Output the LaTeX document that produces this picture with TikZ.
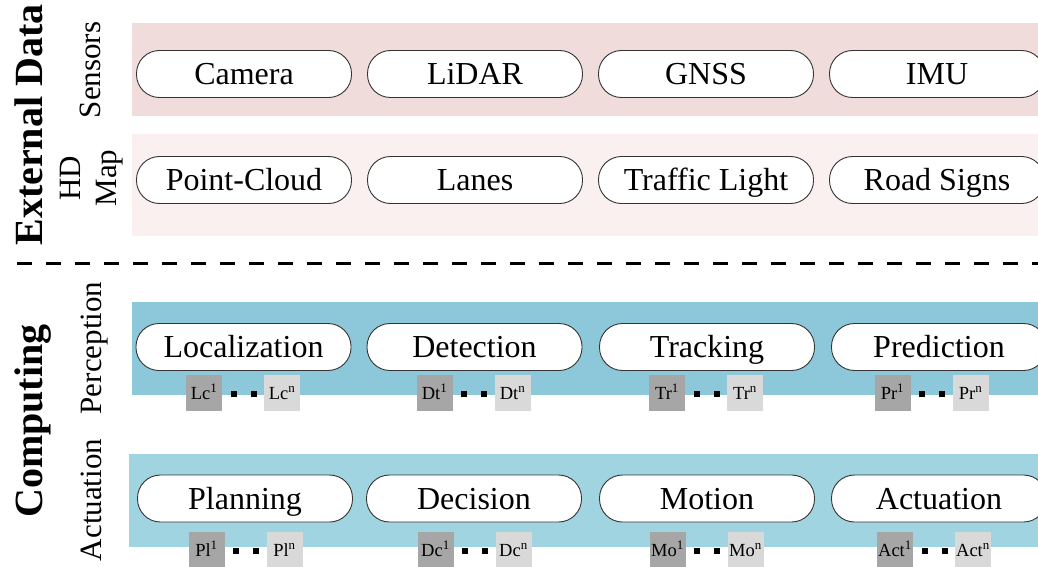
\documentclass[tikz,border=0pt]{standalone}
\usepackage{fontspec}
\setmainfont{Liberation Serif}
\definecolor{sensband}{HTML}{F0DCDA}
\definecolor{mapband}{HTML}{F9F0EF}
\definecolor{percband}{HTML}{8CC8D9}
\definecolor{actband}{HTML}{A0D4E0}
\definecolor{tagdark}{HTML}{A6A6A6}
\definecolor{taglight}{HTML}{D9D9D9}
\begin{document}
\begin{tikzpicture}[x=1pt,y=-1pt,
  pill/.style={draw=black!80, line width=0.9pt, fill=white, rounded corners=23pt,
    minimum width=215pt, minimum height=47pt, inner sep=0pt,
    text height=21pt, text depth=0pt,
    font=\fontsize{32}{36}\selectfont},
  tag/.style={minimum width=36pt, minimum height=36pt, inner sep=0pt,
    text height=12pt, text depth=0pt,
    font=\fontsize{18.5}{20}\selectfont},
  tagA/.style={tag, fill=tagdark},
  tagB/.style={tag, fill=taglight},
  sqdot/.style={fill=black, minimum size=6pt, inner sep=0pt},
  rowlabel/.style={rotate=90, anchor=base, inner sep=0pt, font=\fontsize{31}{36}\selectfont},
  grouplabel/.style={rotate=90, anchor=base, inner sep=0pt, font=\bfseries\fontsize{40}{44}\selectfont}]
\path[use as bounding box, clip] (0,0) rectangle (1038,567);
\fill[white] (0,0) rectangle (1038,567);

% bands
\fill[sensband] (132,23) rectangle (1060,116);
\fill[mapband]  (132,134) rectangle (1060,236);
\fill[percband] (132,302) rectangle (1060,395);
\fill[actband]  (129,454) rectangle (1060,547);

% separator
\coordinate (sepL) at (17,263);
\coordinate (sepR) at (1038,263);
\draw[line width=3pt, dash pattern=on 15pt off 14pt] (sepL) -- (sepR);

% group labels
\node[grouplabel] (ext) at (42,125) {External Data};
\node[grouplabel] (comp) at (42,421) {Computing};

% row labels
\node[rowlabel] (sens) at (100,70) {Sensors};
\node[rotate=90, align=center, inner sep=0pt, font=\fontsize{31}{36}\selectfont] (hdmap) at (92,178) {HD\\Map};
\node[rowlabel] (perc) at (101,348) {Perception};
\node[rowlabel] (actl) at (101,500) {Actuation};

% row 1
\node[pill] (camera) at (244,74) {Camera};
\node[pill] (lidar)  at (475,74) {LiDAR};
\node[pill] (gnss)   at (706,74) {GNSS};
\node[pill] (imu)    at (937,74) {IMU};
% row 2
\node[pill] (pcloud) at (244,180) {Point-Cloud};
\node[pill] (lanes)  at (475,180) {Lanes};
\node[pill] (tlight) at (706,180) {Traffic Light};
\node[pill] (rsigns) at (937,180) {Road Signs};
% row 3
\node[pill] (loc)  at (243.5,347) {Localization};
\node[pill] (det)  at (474.5,347) {Detection};
\node[pill] (trk)  at (707,347) {Tracking};
\node[pill] (pred) at (939,347) {Prediction};
% row 4
\node[pill] (plan) at (245,498.5) {Planning};
\node[pill] (deci) at (474,498.5) {Decision};
\node[pill] (moti) at (707,498.5) {Motion};
\node[pill] (actu) at (939,498.5) {Actuation};

% tags row 3
\foreach \gc/\nm/\lbl in {243/lc/Lc, 473.5/dt/Dt, 706/tr/Tr, 931.5/pr/Pr}{
  \node[tagA] (\nm1) at (\gc-39,393) {\lbl\textsuperscript{1}};
  \node[tagB] (\nm n) at (\gc+39,393) {\lbl\textsuperscript{n}};
  \node[sqdot] (\nm d1) at (\gc-9.5,393.5) {};
  \node[sqdot] (\nm d2) at (\gc+10.5,393.5) {};
}
% tags row 4
\foreach \gc/\nm/\lbl in {245.5/pl/Pl, 474.5/dc/Dc, 706.5/mo/Mo, 934/ac/Act}{
  \node[tagA] (\nm1) at (\gc-39,550) {\lbl\textsuperscript{1}};
  \node[tagB] (\nm n) at (\gc+39,550) {\lbl\textsuperscript{n}};
  \node[sqdot] (\nm d1) at (\gc-9.5,550.5) {};
  \node[sqdot] (\nm d2) at (\gc+10.5,550.5) {};
}
\end{tikzpicture}
\end{document}
